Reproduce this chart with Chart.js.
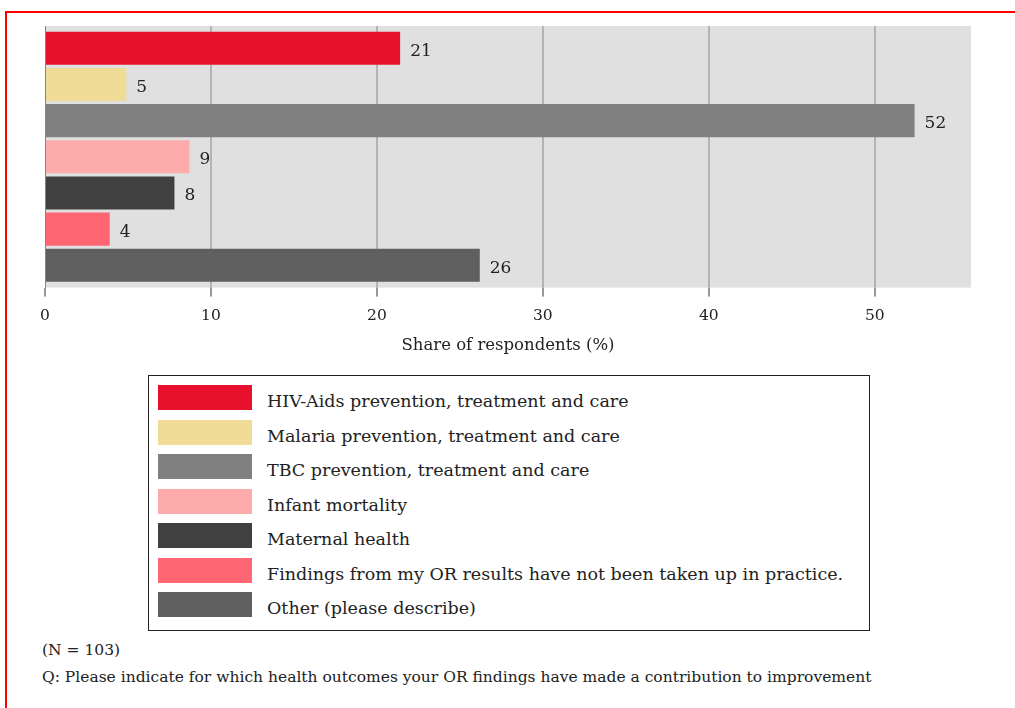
<!DOCTYPE html>
<html>
<head>
<meta charset="utf-8">
<script src="https://cdn.jsdelivr.net/npm/chart.js@4"></script>
<style>
  html, body { margin: 0; padding: 0; background: #fff; width: 1015px; height: 708px; overflow: hidden; }
  body { position: relative; font-family: "DejaVu Serif", serif; color: #222; }
  #frame { position: absolute; left: 5px; top: 11px; width: 1100px; height: 800px; border: 2px solid #ff0000; }
  #wrap { position: absolute; left: 0; top: 0; width: 1015px; height: 361px; }
  #legend { position: absolute; left: 148px; top: 375px; width: 720px; height: 254px; border: 1px solid #222; }
  .item { position: absolute; left: 9px; height: 25px; }
  .swatch { position: absolute; left: 0; top: 0; width: 94px; height: 25px; }
  .label { position: absolute; left: 109px; top: 4px; line-height: 25px; font-size: 17.5px; white-space: nowrap; }
  .note { position: absolute; left: 42px; font-size: 15.5px; white-space: nowrap; }
</style>
</head>
<body>
<div id="frame"></div>
<div id="wrap"><canvas id="chart"></canvas></div>
<div id="legend"></div>
<div class="note" style="top:641px">(N = 103)</div>
<div class="note" style="top:668px">Q: Please indicate for which health outcomes your OR findings have made a contribution to improvement</div>
<script>
// Data
const seriesNames = [
  "HIV-Aids prevention, treatment and care",
  "Malaria prevention, treatment and care",
  "TBC prevention, treatment and care",
  "Infant mortality",
  "Maternal health",
  "Findings from my OR results have not been taken up in practice.",
  "Other (please describe)"
];
const seriesValues = [21.4, 4.9, 52.4, 8.7, 7.8, 3.9, 26.2];
const seriesColors = ["#e8112d", "#f0dc96", "#808080", "#fdabab", "#404040", "#ff6673", "#5f5f5f"];
const xTicks = [0, 10, 20, 30, 40, 50];
const xTitle = "Share of respondents (%)";

// gray plot background
const plotBg = {
  id: "plotBg",
  beforeDraw(chart) {
    const { ctx, chartArea: a } = chart;
    ctx.save();
    ctx.fillStyle = "#e0e0e0";
    ctx.fillRect(a.left, a.top, a.right - a.left, a.bottom - a.top);
    ctx.restore();
  }
};

// value labels at bar ends
const valueLabels = {
  id: "valueLabels",
  afterDatasetsDraw(chart) {
    const ctx = chart.ctx;
    ctx.save();
    ctx.font = "17px 'DejaVu Serif'";
    ctx.fillStyle = "#222";
    ctx.textBaseline = "middle";
    chart.data.datasets.forEach((ds, i) => {
      const el = chart.getDatasetMeta(i).data[0];
      ctx.fillText(Math.round(ds.data[0]), el.x + 10, el.y + 3);
    });
    ctx.restore();
  }
};

new Chart(document.getElementById("chart"), {
  type: "bar",
  data: {
    labels: [""],
    datasets: seriesNames.map((name, i) => ({
      label: name,
      data: [seriesValues[i]],
      backgroundColor: seriesColors[i],
      categoryPercentage: 0.968,
      barPercentage: 0.914
    }))
  },
  options: {
    indexAxis: "y",
    responsive: true,
    maintainAspectRatio: false,
    animation: false,
    layout: { padding: { top: 26, right: 44, bottom: 5, left: 45 } },
    plugins: { legend: { display: false }, tooltip: { enabled: false } },
    scales: {
      x: {
        min: 0,
        max: 55.8,
        afterBuildTicks(axis) {
          axis.ticks = xTicks.map(v => ({ value: v }));
        },
        ticks: {
          padding: 10.5,
          color: "#222",
          font: { family: "DejaVu Serif", size: 15.5 }
        },
        grid: {
          color: ctx => (ctx.tick && ctx.tick.value === 0 ? "rgba(0,0,0,0)" : "#b4b4b4"),
          lineWidth: 2,
          tickColor: "#333",
          tickWidth: 1,
          tickLength: 9
        },
        border: { display: false },
        title: {
          display: true,
          text: xTitle,
          color: "#222",
          font: { family: "DejaVu Serif", size: 16.5 },
          padding: { top: 0, bottom: 0 }
        }
      },
      y: {
        ticks: { display: false },
        grid: { display: false, drawTicks: false },
        border: { display: true, color: "#e05a6a", width: 1 }
      }
    }
  },
  plugins: [plotBg, valueLabels]
});

// legend box
const legend = document.getElementById("legend");
seriesNames.forEach((name, i) => {
  const item = document.createElement("div");
  item.className = "item";
  item.style.top = (9 + i * 34.5) + "px";
  item.innerHTML = `<div class="swatch" style="background:${seriesColors[i]}"></div><div class="label">${name}</div>`;
  legend.appendChild(item);
});
</script>
</body>
</html>
